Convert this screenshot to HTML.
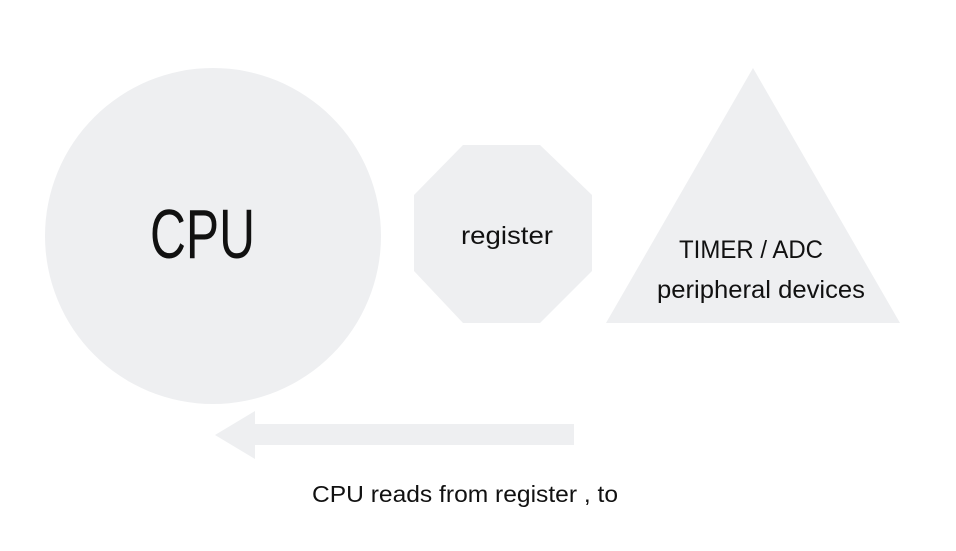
<!DOCTYPE html>
<html><head><meta charset="utf-8"><style>html,body{margin:0;padding:0;background:#fff;}svg{display:block}</style></head>
<body>
<svg width="956" height="551" viewBox="0 0 956 551" xmlns="http://www.w3.org/2000/svg">
<rect width="956" height="551" fill="#fff"/>
<g fill="#eeeff1">
<circle cx="213" cy="236" r="168"/>
<polygon points="463,145 540,145 592,195 592,271 540,323 463,323 414,271 414,195"/>
<polygon points="753,68 900,323 606,323"/>
<polygon points="215,435 255,411 255,424 574,424 574,445 255,445 255,459"/>
</g>
<g font-family="'Liberation Sans', sans-serif" fill="#111">
<text x="150" y="258" font-size="70" textLength="105" lengthAdjust="spacingAndGlyphs">CPU</text>
<text x="461" y="244" font-size="25" textLength="92" lengthAdjust="spacingAndGlyphs">register</text>
<text x="679" y="258" font-size="25" textLength="144" lengthAdjust="spacingAndGlyphs">TIMER / ADC</text>
<text x="657" y="298" font-size="25" textLength="208" lengthAdjust="spacingAndGlyphs">peripheral devices</text>
<text x="312" y="502" font-size="23" textLength="306" lengthAdjust="spacingAndGlyphs">CPU reads from register , to</text>
</g>
</svg>
</body></html>
